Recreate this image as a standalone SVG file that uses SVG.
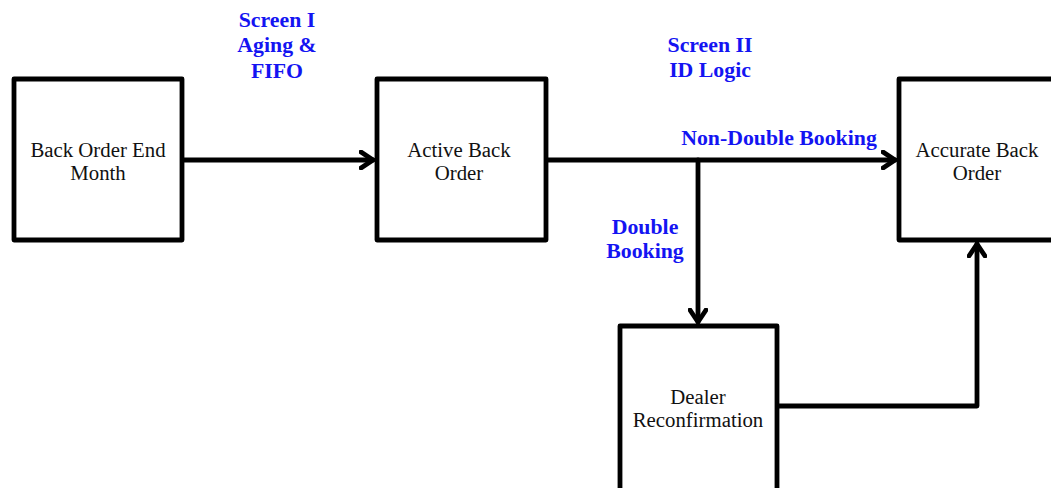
<svg xmlns="http://www.w3.org/2000/svg" width="1051" height="488" viewBox="0 0 1051 488">
<style>
.box{fill:#fff;stroke:#000;stroke-width:4.8;stroke-linejoin:round}
.t{font-family:"Liberation Serif","Times New Roman",serif;font-size:20.8px;fill:#111;text-anchor:middle}
.lb{font-family:"Liberation Serif","Times New Roman",serif;font-size:21.8px;font-weight:bold;fill:#1414f2;text-anchor:middle}
.c{fill:none;stroke:#000;stroke-width:4.8;stroke-linejoin:round;stroke-linecap:round}
</style>
<defs>
<marker id="ah" markerUnits="userSpaceOnUse" viewBox="-14 -10 16 20" refX="0" refY="0" markerWidth="16" markerHeight="20" orient="auto">
<path d="M-12,-8 L0,0 L-12,8" fill="none" stroke="#000" stroke-width="4.8" stroke-linecap="round" stroke-linejoin="round"/>
</marker>
</defs>
<g id="connectors">
<path class="c" d="M182,160 L373,160" marker-end="url(#ah)"/>
<path class="c" d="M546,160 L895,160" marker-end="url(#ah)"/>
<path class="c" d="M698,160 L698,322" marker-end="url(#ah)"/>
<path class="c" d="M778,406 L977,406 L977,244" marker-end="url(#ah)"/>
</g>
<g id="node-back-order-end-month">
<rect class="box" x="14" y="79" width="168" height="161"/>
<text class="t" x="98" y="157">Back Order End</text>
<text class="t" x="98" y="180">Month</text>
</g>
<g id="node-active-back-order">
<rect class="box" x="377" y="79" width="169" height="161"/>
<text class="t" x="459" y="157">Active Back</text>
<text class="t" x="459" y="180">Order</text>
</g>
<g id="node-accurate-back-order">
<rect class="box" x="899" y="79" width="170" height="161"/>
<text class="t" x="977" y="157">Accurate Back</text>
<text class="t" x="977" y="180">Order</text>
</g>
<g id="node-dealer-reconfirmation">
<rect class="box" x="620" y="326" width="157" height="175"/>
<text class="t" x="698" y="404">Dealer</text>
<text class="t" x="698" y="427">Reconfirmation</text>
</g>
<g id="labels">
<text class="lb" x="277" y="27">Screen I</text>
<text class="lb" x="277" y="52">Aging &amp;</text>
<text class="lb" x="277" y="78">FIFO</text>
<text class="lb" x="710" y="52">Screen II</text>
<text class="lb" x="710" y="77">ID Logic</text>
<text class="lb" x="779" y="145">Non-Double Booking</text>
<text class="lb" x="645" y="234">Double</text>
<text class="lb" x="645" y="258">Booking</text>
</g>
</svg>
